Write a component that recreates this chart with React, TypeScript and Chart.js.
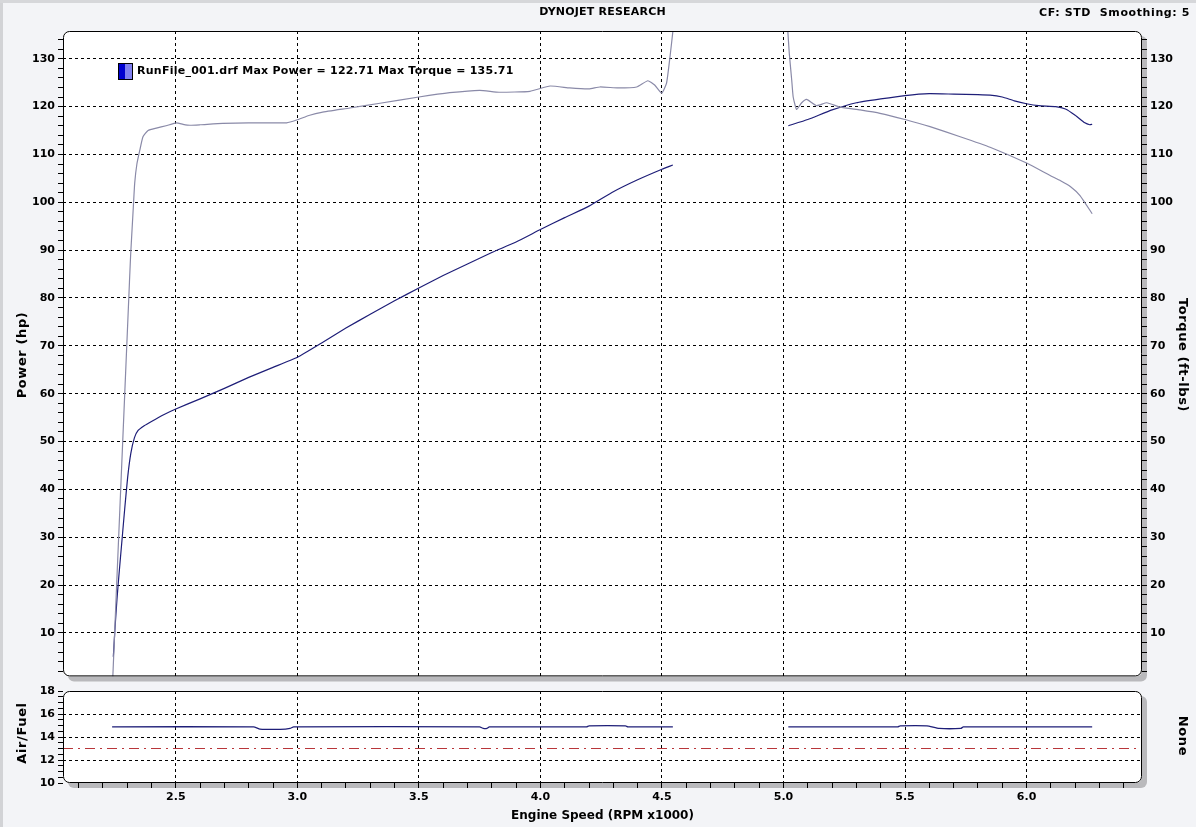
import React, { useEffect, useRef } from "react";
import { Chart, registerables } from "chart.js";

Chart.register(...registerables);

// ---- axis ranges ----
const RPM_MIN = 2.036;
const RPM_MAX = 6.475;
const MAIN_MIN = 0.9;
const MAIN_MAX = 135.8;
const AF_MIN = 10;
const AF_MAX = 18;

// ---- Power (hp) ----
const powerRpmA = [2.243, 2.25, 2.258, 2.266, 2.278, 2.29, 2.302, 2.315, 2.33, 2.345, 2.37, 2.4, 2.45, 2.5, 2.6, 2.7, 2.8, 2.9, 3.0, 3.1, 3.2, 3.3, 3.4, 3.5, 3.6, 3.7, 3.8, 3.9, 4.0, 4.1, 4.2, 4.3, 4.4, 4.5, 4.545];
const powerHpA = [5.0, 11, 17, 22, 29, 36, 42.5, 47.5, 50.8, 52.3, 53.3, 54.2, 55.6, 56.8, 58.9, 61.1, 63.4, 65.5, 67.6, 70.6, 73.7, 76.6, 79.4, 82.1, 84.7, 87.1, 89.5, 91.7, 94.3, 96.8, 99.2, 102.2, 104.7, 106.9, 107.8];
const powerRpmB = [5.02, 5.1, 5.2, 5.3, 5.4, 5.5, 5.6, 5.7, 5.8, 5.85, 5.9, 5.95, 6.0, 6.05, 6.12, 6.16, 6.2, 6.24, 6.26, 6.27];
const powerHpB = [116.0, 117.3, 119.3, 120.8, 121.6, 122.3, 122.71, 122.6, 122.5, 122.4, 122.0, 121.2, 120.6, 120.2, 120.0, 119.5, 118.2, 116.6, 116.2, 116.3];

// ---- Torque (ft-lbs) ----
const torqueRpmA = [2.241, 2.255, 2.27, 2.29, 2.305, 2.314, 2.324, 2.331, 2.34, 2.352, 2.365, 2.386, 2.42, 2.46, 2.503, 2.53, 2.558, 2.6, 2.693, 2.8, 2.9, 2.956, 2.997, 3.051, 3.1, 3.216, 3.34, 3.5, 3.627, 3.75, 3.83, 3.957, 4.04, 4.12, 4.2, 4.245, 4.32, 4.396, 4.442, 4.47, 4.499, 4.519, 4.535, 4.545];
const torqueA = [0.9, 18, 36, 60, 78, 88.7, 97.8, 104, 108, 110.9, 113.7, 115, 115.5, 116, 116.6, 116.3, 116.1, 116.2, 116.5, 116.6, 116.6, 116.6, 117.2, 118.2, 118.8, 119.7, 120.7, 122, 122.9, 123.4, 123.0, 123.2, 124.3, 123.9, 123.7, 124.1, 123.9, 124.1, 125.4, 124.5, 122.8, 124.9, 131.2, 135.71];
const torqueRpmB = [5.018, 5.024, 5.034, 5.04, 5.054, 5.075, 5.095, 5.137, 5.178, 5.233, 5.315, 5.397, 5.5, 5.603, 5.727, 5.85, 6.0, 6.097, 6.14, 6.18, 6.22, 6.27];
const torqueB = [135.71, 131.1, 125.5, 122.0, 119.4, 120.8, 121.5, 120.2, 120.8, 119.9, 119.3, 118.6, 117.3, 115.8, 113.7, 111.5, 108.2, 105.6, 104.5, 103.3, 101.4, 97.6];

// ---- Air/Fuel ----
const afRpmA = [2.238, 2.82, 2.846, 2.88, 2.93, 2.97, 2.985, 3.75, 3.765, 3.78, 3.79, 4.19, 4.2, 4.35, 4.36, 4.545];
const afA = [14.88, 14.88, 14.68, 14.66, 14.66, 14.75, 14.88, 14.88, 14.75, 14.75, 14.88, 14.88, 14.97, 14.97, 14.88, 14.88];
const afRpmB = [5.02, 5.47, 5.48, 5.59, 5.64, 5.73, 5.74, 6.27];
const afB = [14.88, 14.88, 14.97, 14.97, 14.75, 14.75, 14.88, 14.88];
const afRefRpm = [RPM_MIN, RPM_MAX];
const afRef = [13, 13];

const FONT = "'DejaVu Sans', Verdana, sans-serif";
const POWER_COLOR = "#1e1e78";
const TORQUE_COLOR = "#8a8aa8";
const BG = "#f3f4f7";

const pts = (xs: number[], ys: number[]) => xs.map((x, i) => ({ x, y: ys[i] }));
const isMult = (v: number, step: number) => Math.abs(v / step - Math.round(v / step)) < 1e-6;

const framePlugin = {
  id: "frame",
  beforeDraw(chart: any) {
    const { ctx, chartArea: a } = chart;
    const w = a.right - a.left;
    const h = a.bottom - a.top;
    ctx.save();
    ctx.fillStyle = "#b9b9bc";
    ctx.beginPath();
    ctx.roundRect(a.left + 5, a.top + 5, w, h, 6);
    ctx.fill();
    ctx.fillStyle = "#ffffff";
    ctx.beginPath();
    ctx.roundRect(a.left, a.top, w, h, 6);
    ctx.fill();
    ctx.restore();
  },
  afterDraw(chart: any) {
    const { ctx, chartArea: a } = chart;
    ctx.save();
    ctx.strokeStyle = "#000";
    ctx.lineWidth = 1;
    ctx.setLineDash([]);
    ctx.beginPath();
    ctx.roundRect(a.left + 0.5, a.top + 0.5, a.right - a.left - 1, a.bottom - a.top - 1, 6);
    ctx.stroke();
    ctx.restore();
  },
};

const tickFont = { family: FONT, size: 11, weight: "bold" as const };
const titleFont = { family: FONT, size: 12, weight: "bold" as const };

export default function App() {
  const mainRef = useRef<HTMLCanvasElement>(null);
  const afRef2 = useRef<HTMLCanvasElement>(null);

  useEffect(() => {
    document.body.style.margin = "0";
    document.body.style.background = BG;
    const lineDs = (label: string, data: any, color: string, width = 1.2) => ({
      label,
      data,
      borderColor: color,
      backgroundColor: color,
      borderWidth: width,
      pointRadius: 0,
      tension: 0.15,
      fill: false,
    });

    const main = new Chart(mainRef.current!, {
      type: "line",
      data: {
        datasets: [
          lineDs("Torque", pts(torqueRpmA, torqueA), TORQUE_COLOR),
          lineDs("Torque2", pts(torqueRpmB, torqueB), TORQUE_COLOR),
          lineDs("Power", pts(powerRpmA, powerHpA), POWER_COLOR),
          lineDs("Power2", pts(powerRpmB, powerHpB), POWER_COLOR),
        ],
      },
      options: {
        animation: false,
        responsive: false,
        devicePixelRatio: 1,
        layout: { padding: { top: 31, bottom: 8, left: 0, right: 0 } },
        plugins: { legend: { display: false }, tooltip: { enabled: false } },
        scales: {
          x: {
            type: "linear",
            min: RPM_MIN,
            max: RPM_MAX,
            ticks: { display: false, stepSize: 0.5, includeBounds: false },
            grid: { color: "#000", drawTicks: false, lineWidth: 1 },
            border: { display: false, dash: [3, 3] },
            afterFit: (s: any) => { s.height = 0; },
          },
          y: {
            position: "left",
            min: MAIN_MIN,
            max: MAIN_MAX,
            ticks: {
              stepSize: 2,
              includeBounds: false,
              autoSkip: false,
              color: "#000",
              font: tickFont,
              padding: 3,
              callback: (v: any) => (isMult(Number(v), 10) ? String(Math.round(Number(v))) : ""),
            },
            grid: {
              color: (c: any) => (c.tick && isMult(c.tick.value, 10) ? "#000" : "rgba(0,0,0,0)"),
              tickColor: "#000",
              tickLength: 5,
              tickBorderDash: [],
            },
            border: { display: false, dash: [3, 3] },
            afterFit: (s: any) => { s.width = 63; },
          },
          y2: {
            position: "right",
            min: MAIN_MIN,
            max: MAIN_MAX,
            ticks: {
              stepSize: 2,
              includeBounds: false,
              autoSkip: false,
              color: "#000",
              font: tickFont,
              padding: 3,
              callback: (v: any) => (isMult(Number(v), 10) ? String(Math.round(Number(v))) : ""),
            },
            grid: { drawOnChartArea: false, tickColor: "#000", tickLength: 5 },
            border: { display: false },
            afterFit: (s: any) => { s.width = 54; },
          },
        },
      } as any,
      plugins: [framePlugin],
    });

    const af = new Chart(afRef2.current!, {
      type: "line",
      data: {
        datasets: [
          {
            label: "AF target",
            data: pts(afRefRpm, afRef),
            borderColor: "#b8363a",
            borderWidth: 1,
            borderDash: [10, 5, 2, 5],
            pointRadius: 0,
            fill: false,
          },
          lineDs("AF", pts(afRpmA, afA), POWER_COLOR, 1.3),
          lineDs("AF2", pts(afRpmB, afB), POWER_COLOR, 1.3),
        ],
      },
      options: {
        animation: false,
        responsive: false,
        devicePixelRatio: 1,
        layout: { padding: { top: 15, bottom: 0, left: 0, right: 0 } },
        plugins: { legend: { display: false }, tooltip: { enabled: false } },
        scales: {
          x: {
            type: "linear",
            min: RPM_MIN,
            max: RPM_MAX,
            ticks: {
              stepSize: 0.1,
              includeBounds: false,
              autoSkip: false,
              maxRotation: 0,
              color: "#000",
              font: tickFont,
              padding: 3,
              callback: (v: any) => (isMult(Number(v), 0.5) ? Number(v).toFixed(1) : ""),
            },
            grid: {
              color: (c: any) => (c.tick && isMult(c.tick.value, 0.5) ? "#000" : "rgba(0,0,0,0)"),
              tickColor: "#000",
              tickLength: 5,
              tickBorderDash: [],
            },
            border: { display: false, dash: [3, 3] },
            title: { display: true, text: "Engine Speed (RPM x1000)", color: "#000", font: titleFont, padding: { top: 0, bottom: 4 } },
            afterFit: (s: any) => { s.height = 44; },
          },
          y: {
            position: "left",
            min: AF_MIN,
            max: AF_MAX,
            ticks: {
              stepSize: 0.5,
              autoSkip: false,
              color: "#000",
              font: tickFont,
              padding: 3,
              callback: (v: any) => (isMult(Number(v), 2) ? String(Math.round(Number(v))) : ""),
            },
            grid: {
              color: (c: any) =>
                c.tick && isMult(c.tick.value, 2) && c.tick.value > AF_MIN && c.tick.value < AF_MAX ? "#000" : "rgba(0,0,0,0)",
              tickColor: "#000",
              tickLength: 5,
              tickBorderDash: [],
            },
            border: { display: false, dash: [3, 3] },
            afterFit: (s: any) => { s.width = 63; },
          },
          y2: {
            position: "right",
            min: 0,
            max: 1,
            ticks: { display: false },
            grid: { display: false, drawTicks: false },
            border: { display: false },
            afterFit: (s: any) => { s.width = 54; },
          },
        },
      } as any,
      plugins: [framePlugin],
    });

    return () => {
      main.destroy();
      af.destroy();
    };
  }, []);

  const textStyle: React.CSSProperties = {
    position: "absolute",
    fontFamily: FONT,
    fontWeight: "bold",
    fontSize: 11,
    lineHeight: "14px",
    color: "#000",
    whiteSpace: "pre",
  };

  const vTitle = (text: string, cx: number, cy: number, deg: number): React.ReactNode => (
    <div
      style={{
        ...textStyle,
        fontSize: 13,
        lineHeight: "16px",
        letterSpacing: "0.6px",
        left: cx,
        top: cy,
        transform: `translate(-50%, -50%) rotate(${deg}deg)`,
      }}
    >
      {text}
    </div>
  );

  return (
    <div style={{ position: "relative", width: 1196, height: 827, background: BG, overflow: "hidden" }}>
      <div style={{ position: "absolute", left: 0, top: 0, width: 3, height: 827, background: "#d2d3d6" }} />
      <div style={{ position: "absolute", left: 0, top: 0, width: 1196, height: 3, background: "#d6d7da" }} />
      <canvas ref={mainRef} width={1196} height={686} style={{ position: "absolute", left: 0, top: 0 }} />
      <canvas ref={afRef2} width={1196} height={151} style={{ position: "absolute", left: 0, top: 676 }} />
      {vTitle("Power (hp)", 22, 355, -90)}
      {vTitle("Torque (ft-lbs)", 1183, 355, 90)}
      {vTitle("Air/Fuel", 22, 733, -90)}
      {vTitle("None", 1183, 736, 90)}
      <div style={{ ...textStyle, left: 63, width: 1079, top: 5, textAlign: "center", letterSpacing: "0.2px" }}>DYNOJET RESEARCH</div>
      <div style={{ ...textStyle, right: 6, top: 6, textAlign: "right", letterSpacing: "0.6px" }}>{"CF: STD  Smoothing: 5"}</div>
      <div
        style={{
          position: "absolute",
          left: 118,
          top: 63,
          width: 15,
          height: 17,
          boxSizing: "border-box",
          border: "1px solid #000",
          background: "linear-gradient(to right, #0000d0 50%, #8080f0 50%)",
        }}
      />
      <div style={{ ...textStyle, left: 137, top: 64, letterSpacing: "0.25px" }}>
        RunFile_001.drf Max Power = 122.71 Max Torque = 135.71
      </div>
    </div>
  );
}
